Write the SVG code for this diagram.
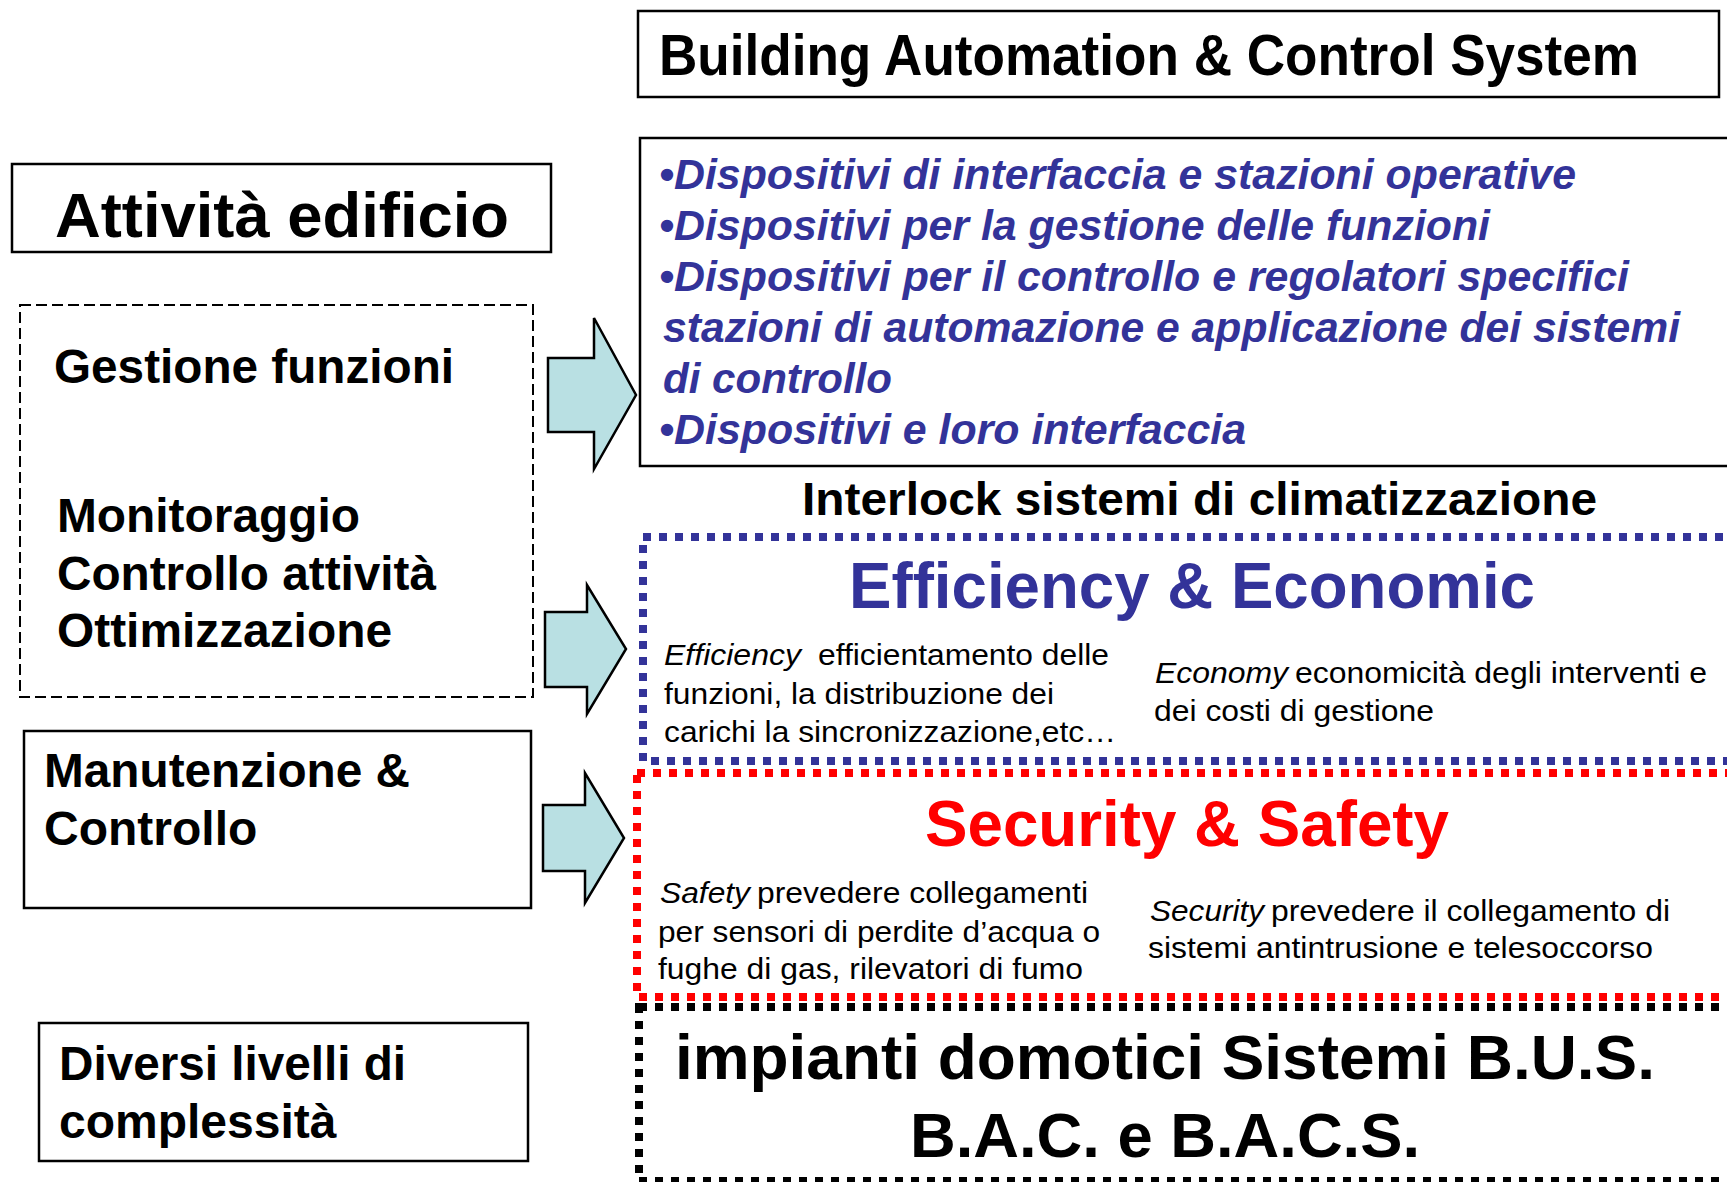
<svg xmlns="http://www.w3.org/2000/svg" width="1727" height="1182" viewBox="0 0 1727 1182">
  <style>
    text { font-family: "Liberation Sans", Arial, sans-serif; }
    .box { fill: #ffffff; stroke: #000000; stroke-width: 2.5; }
    .dash { fill: none; stroke: #000000; stroke-width: 2; stroke-dasharray: 11 5; }
    .dotBlue { fill: none; stroke: #333399; stroke-width: 8; stroke-dasharray: 8 8; }
    .dotRed { fill: none; stroke: #ff0000; stroke-width: 8; stroke-dasharray: 8 8; }
    .dotBlack { fill: none; stroke: #000000; stroke-width: 8; stroke-dasharray: 8 8; }
    .arrow { fill: #b9e0e3; stroke: #000000; stroke-width: 2.5; stroke-linejoin: miter; }
    .head { font-weight: bold; fill: #000000; }
    .left { font-weight: bold; font-size: 48px; fill: #000000; }
    .list { font-weight: bold; font-style: italic; font-size: 42px; fill: #333399; }
    .small { font-size: 29px; fill: #000000; }
    .it { font-style: italic; }
  </style>

  <!-- title -->
  <g id="bacs-title">
    <rect class="box" x="638" y="11" width="1081" height="86"/>
    <text class="head" x="659" y="75" font-size="57" textLength="980" lengthAdjust="spacingAndGlyphs">Building Automation &amp; Control System</text>
  </g>

  <!-- left column -->
  <g id="attivita-edificio">
    <rect class="box" x="12" y="164" width="539" height="88"/>
    <text class="head" x="55" y="237" font-size="63" textLength="454" lengthAdjust="spacingAndGlyphs">Attività edificio</text>
  </g>

  <g id="funzioni">
    <rect class="dash" x="20" y="305" width="513" height="392"/>
    <text class="left" x="54" y="383" textLength="400" lengthAdjust="spacingAndGlyphs">Gestione funzioni</text>
    <text class="left" x="57" y="532" textLength="303" lengthAdjust="spacingAndGlyphs">Monitoraggio</text>
    <text class="left" x="57" y="590" textLength="379" lengthAdjust="spacingAndGlyphs">Controllo attività</text>
    <text class="left" x="57" y="647" textLength="335" lengthAdjust="spacingAndGlyphs">Ottimizzazione</text>
  </g>

  <g id="manutenzione">
    <rect class="box" x="24" y="731" width="507" height="177"/>
    <text class="left" x="44" y="787" textLength="366" lengthAdjust="spacingAndGlyphs">Manutenzione &amp;</text>
    <text class="left" x="44" y="845">Controllo</text>
  </g>

  <g id="livelli">
    <rect class="box" x="39" y="1023" width="489" height="138"/>
    <text class="left" x="59" y="1080" textLength="347" lengthAdjust="spacingAndGlyphs">Diversi livelli di</text>
    <text class="left" x="59" y="1138">complessità</text>
  </g>

  <!-- block arrows -->
  <g id="connectors">
    <polygon class="arrow" points="548,358 594,358 594,318 636,395 594,469 594,432 548,432"/>
    <polygon class="arrow" points="545,612 587,612 587,585 626,649 587,714 587,687 545,687"/>
    <polygon class="arrow" points="543,805 585,805 585,773 624,838 585,903 585,871 543,871"/>
  </g>

  <!-- device list -->
  <g id="dispositivi">
    <rect class="box" x="640" y="138" width="1120" height="328"/>
    <text class="list" x="659" y="189" textLength="917" lengthAdjust="spacingAndGlyphs">•Dispositivi di interfaccia e stazioni operative</text>
    <text class="list" x="659" y="240" textLength="831" lengthAdjust="spacingAndGlyphs">•Dispositivi per la gestione delle funzioni</text>
    <text class="list" x="659" y="291" textLength="970" lengthAdjust="spacingAndGlyphs">•Dispositivi per il controllo e regolatori specifici</text>
    <text class="list" x="663" y="342" textLength="1017" lengthAdjust="spacingAndGlyphs">stazioni di automazione e applicazione dei sistemi</text>
    <text class="list" x="663" y="393" textLength="229" lengthAdjust="spacingAndGlyphs">di controllo</text>
    <text class="list" x="659" y="444" textLength="587" lengthAdjust="spacingAndGlyphs">•Dispositivi e loro interfaccia</text>
  </g>

  <g id="interlock">
    <text class="head" x="802" y="515" font-size="47" textLength="795" lengthAdjust="spacingAndGlyphs">Interlock sistemi di climatizzazione</text>
  </g>

  <!-- efficiency -->
  <g id="efficiency">
    <rect class="dotBlue" x="643" y="537" width="1120" height="224"/>
    <text class="head" x="849" y="608" font-size="64" style="fill:#333399" textLength="686" lengthAdjust="spacingAndGlyphs">Efficiency &amp; Economic</text>
    <text class="small it" x="664" y="665" textLength="137" lengthAdjust="spacingAndGlyphs">Efficiency</text>
    <text class="small" x="818" y="665" textLength="291" lengthAdjust="spacingAndGlyphs">efficientamento delle</text>
    <text class="small" x="664" y="704" textLength="390" lengthAdjust="spacingAndGlyphs">funzioni, la distribuzione dei</text>
    <text class="small" x="664" y="742" textLength="452" lengthAdjust="spacingAndGlyphs">carichi la sincronizzazione,etc…</text>
    <text class="small it" x="1155" y="683" textLength="133" lengthAdjust="spacingAndGlyphs">Economy</text>
    <text class="small" x="1295" y="683" textLength="412" lengthAdjust="spacingAndGlyphs">economicità degli interventi e</text>
    <text class="small" x="1154" y="721" textLength="280" lengthAdjust="spacingAndGlyphs">dei costi di gestione</text>
  </g>

  <!-- security -->
  <g id="security">
    <rect class="dotRed" x="637" y="773" width="1125" height="224"/>
    <text class="head" x="925" y="846" font-size="65" style="fill:#ff0000" textLength="524" lengthAdjust="spacingAndGlyphs">Security &amp; Safety</text>
    <text class="small it" x="660" y="903" textLength="90" lengthAdjust="spacingAndGlyphs">Safety</text>
    <text class="small" x="757" y="903" textLength="331" lengthAdjust="spacingAndGlyphs">prevedere collegamenti</text>
    <text class="small" x="658" y="942" textLength="442" lengthAdjust="spacingAndGlyphs">per sensori di perdite d’acqua o</text>
    <text class="small" x="658" y="979" textLength="425" lengthAdjust="spacingAndGlyphs">fughe di gas, rilevatori di fumo</text>
    <text class="small it" x="1150" y="921" textLength="114" lengthAdjust="spacingAndGlyphs">Security</text>
    <text class="small" x="1271" y="921" textLength="399" lengthAdjust="spacingAndGlyphs">prevedere il collegamento di</text>
    <text class="small" x="1148" y="958" textLength="505" lengthAdjust="spacingAndGlyphs">sistemi antintrusione e telesoccorso</text>
  </g>

  <!-- home automation -->
  <g id="impianti">
    <rect class="dotBlack" x="639" y="1007" width="1125" height="174"/>
    <text class="head" x="675" y="1079" font-size="63" textLength="980" lengthAdjust="spacingAndGlyphs">impianti domotici Sistemi B.U.S.</text>
    <text class="head" x="910" y="1157" font-size="63" textLength="510" lengthAdjust="spacingAndGlyphs">B.A.C. e B.A.C.S.</text>
  </g>
</svg>
